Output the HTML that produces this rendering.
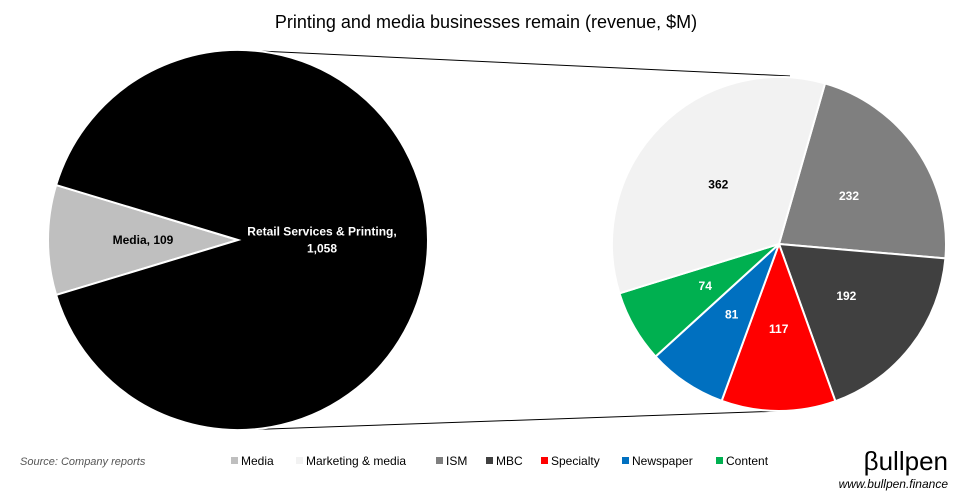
<!DOCTYPE html>
<html><head><meta charset="utf-8"><style>
body{margin:0;background:#fff;}
svg{display:block;font-family:"Liberation Sans",sans-serif;}
</style></head><body>
<svg id="chart" width="973" height="503" viewBox="0 0 973 503">
<text x="486" y="28" text-anchor="middle" font-size="18" fill="#000">Printing and media businesses remain (revenue, $M)</text>
<line x1="238" y1="50" x2="790" y2="76" stroke="#000" stroke-width="1"/>
<line x1="238" y1="430" x2="782" y2="411" stroke="#000" stroke-width="1"/>
<g id="big"></g>
<g id="small"></g>
<text x="20" y="465" font-size="11" font-style="italic" fill="#555">Source: Company reports</text>
<g id="legend"></g>
<text x="948" y="470" text-anchor="end" font-size="26" fill="#000">βullpen</text>
<text x="948" y="488" text-anchor="end" font-size="12" font-style="italic" fill="#000">www.bullpen.finance</text>
</svg>
<script>
const bigCats=["Media","Retail Services & Printing"];
const bigVals=[109,1058];
const bigLabels=["Media, 109","Retail Services & Printing,|1,058"];
const smallCats=["ISM","MBC","Specialty","Newspaper","Content","Marketing & media"];
const smallVals=[232,192,117,81,74,362];
const legendCats=["Media","Marketing & media","ISM","MBC","Specialty","Newspaper","Content"];
const colors={"Media":"#bfbfbf","Retail Services & Printing":"#000000","Marketing & media":"#f2f2f2","ISM":"#7f7f7f","MBC":"#404040","Specialty":"#ff0000","Newspaper":"#0070c0","Content":"#00b050"};
const NS="http://www.w3.org/2000/svg";
function pt(cx,cy,r,a){const t=a*Math.PI/180;return [cx+r*Math.sin(t),cy-r*Math.cos(t)];}
function drawPie(g,cx,cy,r,cats,vals,start,lblR,labels,prefix){
 const tot=vals.reduce((a,b)=>a+b,0);let a=start;
 cats.forEach((c,i)=>{
  const sw=vals[i]/tot*360;const p1=pt(cx,cy,r,a),p2=pt(cx,cy,r,a+sw);
  const path=document.createElementNS(NS,"path");
  path.setAttribute("d",`M${cx},${cy}L${p1[0]},${p1[1]}A${r},${r} 0 ${sw>180?1:0} 1 ${p2[0]},${p2[1]}Z`);
  path.setAttribute("fill",colors[c]);path.setAttribute("stroke","#fff");path.setAttribute("stroke-width","2");
  
  
  g.appendChild(path);
  const lr=typeof lblR==="function"?lblR(i):lblR;
  const lp=pt(cx,cy,lr,a+sw/2);
  const lines=(labels?labels[i]:String(vals[i])).split("|");
  const dark=["Media","Marketing & media"].includes(c);
  lines.forEach((ln,j)=>{
   const t=document.createElementNS(NS,"text");
   t.setAttribute("x",lp[0]);t.setAttribute("y",lp[1]+4+(j-(lines.length-1)/2)*17);
   t.setAttribute("text-anchor","middle");t.setAttribute("font-size","12");t.setAttribute("font-weight","bold");
   t.setAttribute("fill",dark?"#000":"#fff");t.textContent=ln;
   
   
   g.appendChild(t);
  });
  a+=sw;
 });
}
const bigStart=270-bigVals[0]/(bigVals[0]+bigVals[1])*180;
drawPie(document.getElementById("big"),238,240,190,bigCats,bigVals,bigStart,i=>i===0?95:84,bigLabels,"big");
drawPie(document.getElementById("small"),779,244,167,smallCats,smallVals,16,85,null,"small");
const lg=document.getElementById("legend");
const lx=[231,296,436,486,541,622,716];
legendCats.forEach((c,i)=>{
 const r=document.createElementNS(NS,"rect");
 r.setAttribute("x",lx[i]);r.setAttribute("y",457);r.setAttribute("width",7);r.setAttribute("height",7);r.setAttribute("fill",colors[c]);
 
 
 lg.appendChild(r);
 const t=document.createElementNS(NS,"text");
 t.setAttribute("x",lx[i]+10);t.setAttribute("y",465);t.setAttribute("font-size","12");t.setAttribute("fill","#000");t.textContent=c;
 
 
 lg.appendChild(t);
});
</script>
</body></html>
